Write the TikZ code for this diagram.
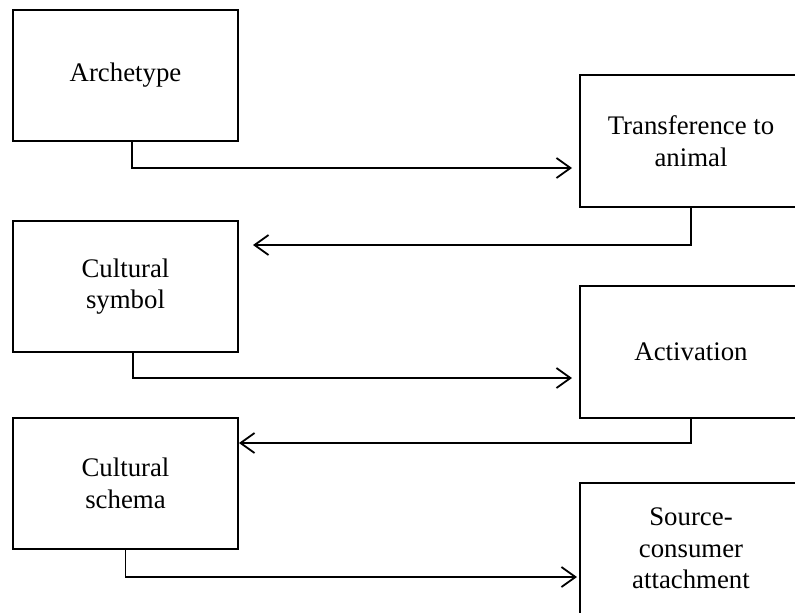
\documentclass[tikz,border=0pt]{standalone}
\usepackage{fontspec}
\setmainfont{Liberation Serif}
\usepackage{tikz}
\usetikzlibrary{arrows.meta}

\begin{document}
\begin{tikzpicture}[x=0.5pt, y=-0.5pt,
  stage/.style={draw, line width=1pt, rectangle, align=center, inner sep=0pt,
    font=\fontsize{13.4}{15.8}\selectfont},
  leftstage/.style={stage, minimum width=112.5pt, minimum height=65.5pt},
  rightstage/.style={stage, minimum width=111pt, minimum height=66pt},
  conn/.style={line width=0.9pt, -{Straight Barb[length=7pt,width=10pt,line width=0.9pt]}}]
\useasboundingbox (0,0) rectangle (795,612);
\node[leftstage] (arch) at (125.5,75.5) {Archetype};
\node[rightstage] (trans) at (691,141) {Transference to\\animal};
\node[leftstage] (symb) at (125.5,286.5) {Cultural\\symbol};
\node[rightstage] (activ) at (691,351.5) {Activation};
\node[leftstage] (schema) at (125.5,483.5) {Cultural\\schema};
\node[rightstage] (source) at (691,548.5) {Source-\\consumer\\attachment};
\draw[conn] ([xshift=3.25pt]arch.south) |- ([xshift=-3.5pt,yshift=-13.5pt]trans.west);
\draw[conn] (trans.south) |- ([xshift=7pt,yshift=20.75pt]symb.east);
\draw[conn] ([xshift=3.75pt]symb.south) |- ([xshift=-3.5pt,yshift=-13.25pt]activ.west);
\draw[conn] (activ.south) |- ([yshift=20.25pt]schema.east);
\draw[conn] (schema.south) |- ([xshift=-1pt,yshift=-14.25pt]source.west);
\end{tikzpicture}
\end{document}
